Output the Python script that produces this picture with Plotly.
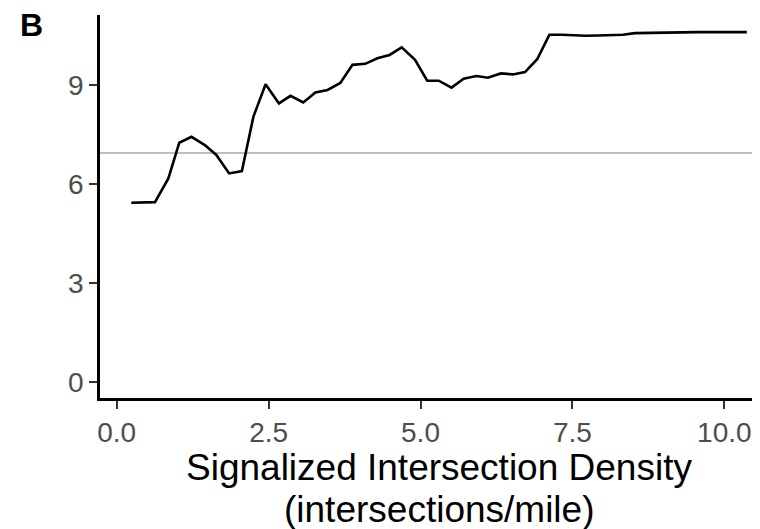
import plotly.graph_objects as go

# Data
density = [0.24, 0.63, 0.85, 1.03, 1.23, 1.45, 1.64, 1.85, 2.06, 2.25, 2.45,
           2.67, 2.86, 3.07, 3.27, 3.47, 3.68, 3.88, 4.09, 4.29, 4.49, 4.69,
           4.91, 5.11, 5.30, 5.51, 5.71, 5.92, 6.11, 6.32, 6.52, 6.72, 6.92,
           7.12, 7.33, 7.52, 7.72, 7.92, 8.12, 8.33, 8.53, 8.74, 8.94, 9.15,
           9.35, 9.56, 9.76, 9.96, 10.17, 10.37]
effect = [5.43, 5.45, 6.17, 7.25, 7.43, 7.18, 6.88, 6.32, 6.39, 8.04, 9.02,
          8.44, 8.67, 8.47, 8.77, 8.85, 9.06, 9.61, 9.64, 9.81, 9.91, 10.14,
          9.76, 9.13, 9.13, 8.92, 9.19, 9.27, 9.22, 9.35, 9.32, 9.39, 9.78,
          10.52, 10.52, 10.50, 10.49, 10.50, 10.51, 10.52, 10.57, 10.58, 10.58, 10.60,
          10.60, 10.60, 10.60, 10.60, 10.60, 10.60]
reference_level = 6.94

x_ticks = [0.0, 2.5, 5.0, 7.5, 10.0]
x_ticklabels = ["0.0", "2.5", "5.0", "7.5", "10.0"]
y_ticks = [0, 3, 6, 9]
y_ticklabels = ["0", "3", "6", "9"]

panel_label = "B"
x_title_lines = ["Signalized Intersection Density", "(intersections/mile)"]

FONT = "Liberation Sans, Arial, Helvetica, sans-serif"

fig = go.Figure()
fig.add_hline(y=reference_level, line=dict(color="#BEBEBE", width=2), layer="below")
fig.add_trace(go.Scatter(x=density, y=effect, mode="lines",
                         line=dict(color="black", width=2.6), showlegend=False))

axis_common = dict(showgrid=False, zeroline=False, showline=True, linecolor="black",
                   linewidth=2.5, ticks="outside", ticklen=8, tickwidth=2,
                   tickcolor="#333333", tickfont=dict(size=28, color="#4D4D4D", family=FONT))

fig.update_xaxes(range=[-0.275, 10.587], tickvals=x_ticks, ticktext=x_ticklabels, **axis_common)
fig.update_yaxes(range=[-0.485, 11.12], tickvals=y_ticks, ticktext=y_ticklabels, **axis_common)

for line_text, ypos in zip(x_title_lines, [-0.182, -0.291]):
    fig.add_annotation(text=line_text, xref="paper", yref="paper", x=0.513, y=ypos,
                       xanchor="center", yanchor="middle", showarrow=False,
                       font=dict(size=37, color="black", family=FONT))
fig.add_annotation(text="<b>" + panel_label + "</b>", xref="paper", yref="paper",
                   x=-0.1045, y=0.975, xanchor="center", yanchor="middle", showarrow=False,
                   font=dict(size=32, color="black", family=FONT))

fig.update_layout(width=752, height=521, plot_bgcolor="white", paper_bgcolor="white",
                  margin=dict(l=92, r=0, t=7, b=131), font=dict(family=FONT))

fig.write_html("out.html")
